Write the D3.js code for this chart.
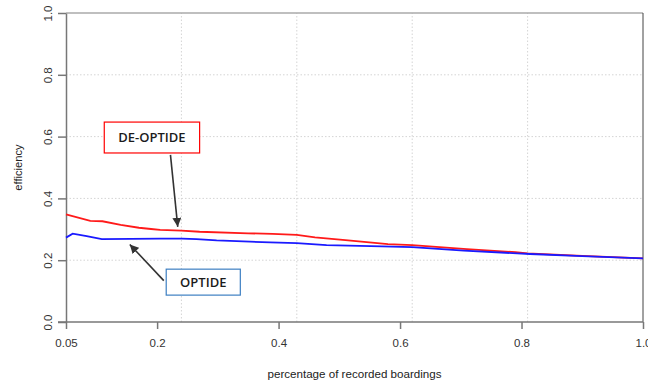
<!DOCTYPE html>
<html>
<head>
<meta charset="utf-8">
<script src="https://cdn.jsdelivr.net/npm/d3@7"></script>
<style>
  body { margin: 0; background: #fff; }
  svg { display: block; font-family: "Liberation Sans", Arial, sans-serif; }
  .tick text { fill: #333; }
</style>
</head>
<body>
<svg id="chart" width="648" height="383"></svg>
<script>
// values
const redX  = [0.05, 0.09, 0.11, 0.14, 0.17, 0.19, 0.205, 0.24, 0.27, 0.35, 0.39, 0.43, 0.46, 0.51, 0.58, 0.62, 0.71, 0.79, 0.81, 0.9, 1.0]
const redY  = [0.348, 0.327, 0.326, 0.314, 0.305, 0.301, 0.298, 0.296, 0.292, 0.287, 0.285, 0.282, 0.274, 0.265, 0.252, 0.249, 0.236, 0.226, 0.222, 0.214, 0.206]
const blueX = [0.05, 0.061, 0.084, 0.109, 0.205, 0.241, 0.265, 0.298, 0.353, 0.386, 0.43, 0.479, 0.57, 0.62, 0.705, 0.793, 0.814, 0.9, 1.0]
const blueY = [0.273, 0.286, 0.278, 0.268, 0.27, 0.27, 0.268, 0.264, 0.26, 0.258, 0.255, 0.249, 0.245, 0.242, 0.231, 0.222, 0.22, 0.213, 0.206]

const xTicks = [0.05, 0.2, 0.4, 0.6, 0.8, 1.0]
const xTickLabels = ["0.05", "0.2", "0.4", "0.6", "0.8", "1.0"]
const yTicks = [0, 0.2, 0.4, 0.6, 0.8, 1.0]
const xGrid = [0.24, 0.43, 0.62, 0.81]
const yGrid = [0.2, 0.4, 0.6, 0.8]

const margin = {top: 13, right: 5, bottom: 61, left: 66}
const width = 648, height = 383

const svg = d3.select("#chart")
const x = d3.scaleLinear().domain([0.05, 1]).range([margin.left, width - margin.right])
const y = d3.scaleLinear().domain([0, 1]).range([height - margin.bottom, margin.top])

// grid
svg.append("g")
  .selectAll("line")
  .data(xGrid)
  .join("line")
  .attr("x1", d => x(d)).attr("x2", d => x(d))
  .attr("y1", y(0)).attr("y2", y(1))
  .attr("stroke", "#d4d4d4").attr("stroke-dasharray", "1.5,2")
svg.append("g")
  .selectAll("line")
  .data(yGrid)
  .join("line")
  .attr("x1", x(0.05)).attr("x2", x(1))
  .attr("y1", d => y(d)).attr("y2", d => y(d))
  .attr("stroke", "#d4d4d4").attr("stroke-dasharray", "1.5,2")

// top + right border
svg.append("line")
  .attr("x1", x(0.05)).attr("x2", x(1)).attr("y1", y(1)).attr("y2", y(1))
  .attr("stroke", "#aaa").attr("stroke-width", 1.5)
svg.append("line")
  .attr("x1", x(1)).attr("x2", x(1)).attr("y1", y(1)).attr("y2", y(0))
  .attr("stroke", "#444").attr("stroke-width", 1)

// axes
const xAxis = svg.append("g")
  .attr("transform", `translate(0,${y(0)})`)
  .call(d3.axisBottom(x).tickValues(xTicks).tickFormat((d, i) => xTickLabels[i]).tickSize(7).tickSizeOuter(0).tickPadding(10))
xAxis.select(".domain").attr("stroke", "#777").attr("stroke-width", 1.5)
xAxis.selectAll(".tick line").attr("stroke", "#777").attr("stroke-width", 1.5)
xAxis.selectAll(".tick text").attr("font-size", 11.5)
xAxis.select(".domain").attr("d", `M${x(0.05) - 8},0H${x(1)}`)

const yAxis = svg.append("g")
  .attr("transform", `translate(${x(0.05)},0)`)
  .call(d3.axisLeft(y).tickValues(yTicks).tickFormat(d3.format(".1f")).tickSize(8).tickSizeOuter(0))
yAxis.select(".domain").attr("stroke", "#777").attr("stroke-width", 1.5)
yAxis.selectAll(".tick line").attr("stroke", "#777").attr("stroke-width", 1.5)
yAxis.selectAll(".tick text")
  .attr("font-size", 11.5)
  .attr("x", null).attr("dy", null)
  .attr("text-anchor", "middle")
  .attr("transform", "translate(-14,0) rotate(-90)")

// axis titles
svg.append("text")
  .attr("x", (x(0.05) + x(1)) / 2).attr("y", 378)
  .attr("text-anchor", "middle").attr("font-size", 11.6).attr("fill", "#222")
  .text("percentage of recorded boardings")
svg.append("text")
  .attr("transform", `translate(22,${(y(0) + y(1)) / 2}) rotate(-90)`)
  .attr("text-anchor", "middle").attr("font-size", 11.2).attr("fill", "#222")
  .text("efficiency")

// series
const line = d3.line().x(d => x(d[0])).y(d => y(d[1]))
const series = [
  {name: "DE-OPTIDE", color: "#ff1a1a", pts: d3.zip(redX, redY)},
  {name: "OPTIDE", color: "#1a1aff", pts: d3.zip(blueX, blueY)}
]
svg.append("g")
  .selectAll("path")
  .data(series)
  .join("path")
  .attr("d", d => line(d.pts))
  .attr("fill", "none")
  .attr("stroke", d => d.color)
  .attr("stroke-width", 1.8)

// annotations
svg.append("defs").append("marker")
  .attr("id", "arrow")
  .attr("viewBox", "0 0 10 10").attr("refX", 10).attr("refY", 5)
  .attr("markerWidth", 9).attr("markerHeight", 9).attr("markerUnits", "userSpaceOnUse")
  .attr("orient", "auto")
  .append("path").attr("d", "M0,0L10,5L0,10z").attr("fill", "#333")

const notes = [
  {label: "DE-OPTIDE", stroke: "#ff0000", box: [0.113, 0.27, 0.547, 0.647], from: [0.222, 0.541], to: [0.234, 0.308]},
  {label: "OPTIDE", stroke: "#3d7fc2", box: [0.215, 0.337, 0.087, 0.171], from: [0.211, 0.134], to: [0.155, 0.251]}
]
const ann = svg.append("g").selectAll("g").data(notes).join("g")
ann.append("line")
  .attr("x1", d => x(d.from[0])).attr("y1", d => y(d.from[1]))
  .attr("x2", d => x(d.to[0])).attr("y2", d => y(d.to[1]))
  .attr("stroke", "#333").attr("stroke-width", 1.6)
  .attr("marker-end", "url(#arrow)")
ann.append("rect")
  .attr("x", d => x(d.box[0])).attr("y", d => y(d.box[3]))
  .attr("width", d => x(d.box[1]) - x(d.box[0]))
  .attr("height", d => y(d.box[2]) - y(d.box[3]))
  .attr("fill", "#fff").attr("stroke", d => d.stroke).attr("stroke-width", 1.2)
ann.append("text")
  .attr("x", d => (x(d.box[0]) + x(d.box[1])) / 2)
  .attr("y", d => (y(d.box[2]) + y(d.box[3])) / 2)
  .attr("dy", "0.36em")
  .attr("text-anchor", "middle")
  .attr("font-family", "'Open Sans', 'Liberation Sans', sans-serif")
  .attr("font-size", 13).attr("font-weight", 600).attr("fill", "#1c1c1c")
  .text(d => d.label)
</script>
</body>
</html>
